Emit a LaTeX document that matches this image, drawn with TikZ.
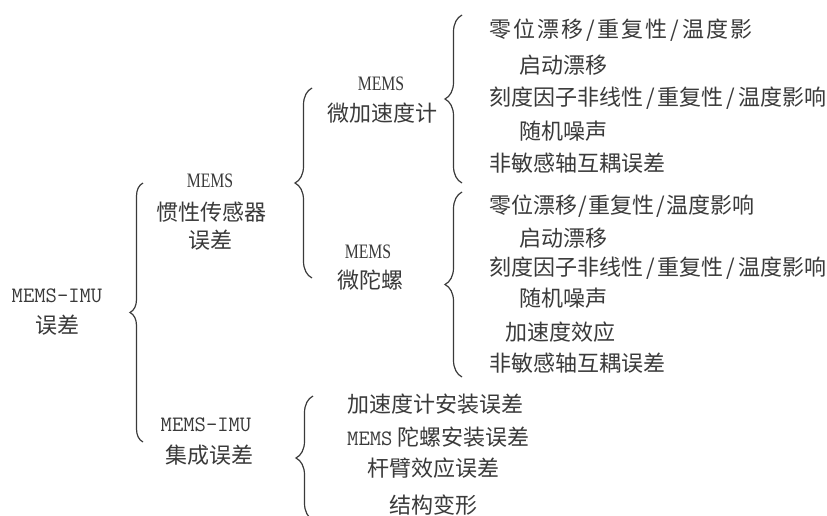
\documentclass[tikz,border=0pt]{standalone}
\usepackage{fontspec}
\newfontfamily\cjk{Noto Sans CJK SC}
\newfontfamily\narrowserif[FakeStretch=0.77]{Liberation Serif}
\usetikzlibrary{decorations.pathreplacing}
\definecolor{ink}{HTML}{3A3A3A}
\newcommand\lsp{\hspace{2pt}}
\newcommand\sla{\hspace{3pt}/\hspace{3pt}}
\newcommand\slb{\hspace{1.5pt}/\hspace{1.5pt}}
\tikzset{
  cj/.style={font=\cjk\fontsize{22}{26}\selectfont, text=ink, inner sep=0pt},
  lat/.style={font=\narrowserif\fontsize{20.5}{24}\selectfont, text=ink, inner sep=0pt},
  mo/.style={font=\ttfamily\fontsize{22}{26}\selectfont, text=ink, inner sep=0pt},
  lbrace/.style={draw=ink, line width=1.2pt, decorate, decoration={brace, amplitude=#1}},
  lbrace/.default=17pt
}
\begin{document}
\begin{tikzpicture}[x=1pt, y=-1pt]
\fill[white] (0,0) rectangle (827,515);
\useasboundingbox (0,0) rectangle (827,515);

% root
\node[mo] (r1) at (57,296) {MEMS-IMU};
\node[cj] (r2) at (57,325) {误差};

% level 1
\node[lat] (s1) at (210,181) {MEMS};
\node[cj]  (s2) at (211,212) {惯性传感器};
\node[cj]  (s3) at (210,240) {误差};
\node[mo]  (i1) at (206,425) {MEMS-IMU};
\node[cj]  (i2) at (209,455) {集成误差};

% level 2
\node[lat] (a1) at (381,84) {MEMS};
\node[cj]  (a2) at (382,113) {微加速度计};
\node[lat] (g1) at (368,252) {MEMS};
\node[cj]  (g2) at (370,280) {微陀螺};

% accelerometer errors
\node[cj, anchor=west] (a3) at (489,30) {零\lsp 位\lsp 漂\lsp 移\sla 重\lsp 复\lsp 性\sla 温\lsp 度\lsp 影};
\node[cj, anchor=west] (a4) at (519,65) {启动漂移};
\node[cj, anchor=west] (a5) at (489,98) {刻度因子非线性\sla 重复性\sla 温度影响};
\node[cj, anchor=west] (a6) at (519,131) {随机噪声};
\node[cj, anchor=west] (a7) at (489,163) {非敏感轴互耦误差};

% gyro errors
\node[cj, anchor=west] (g3) at (489,206) {零位漂移\slb 重复性\slb 温度影响};
\node[cj, anchor=west] (g4) at (519,238) {启动漂移};
\node[cj, anchor=west] (g5) at (489,268) {刻度因子非线性\sla 重复性\sla 温度影响};
\node[cj, anchor=west] (g6) at (519,298) {随机噪声};
\node[cj, anchor=west] (g7) at (505,332) {加速度效应};
\node[cj, anchor=west] (g8) at (489,363) {非敏感轴互耦误差};

% integration errors
\node[cj, anchor=west] (n1) at (347,404) {加速度计安装误差};
\node[cj, anchor=west] (n2) at (347,437) {{\ttfamily MEMS} 陀螺安装误差};
\node[cj, anchor=west] (n3) at (367,468) {杆臂效应误差};
\node[cj, anchor=west] (n4) at (389,505) {结构变形};

% brace end points
\coordinate (b1t) at (143,183);
\coordinate (b1b) at (143,442);
\coordinate (b2t) at (312,88);
\coordinate (b2b) at (312,278);
\coordinate (b3t) at (462,15);
\coordinate (b3b) at (462,183);
\coordinate (b4t) at (462,192);
\coordinate (b4b) at (462,377);
\coordinate (b5t) at (313,396);
\coordinate (b5b) at (313,520);

\draw[lbrace=13pt] (b1b) -- (b1t);
\draw[lbrace] (b2b) -- (b2t);
\draw[lbrace] (b3b) -- (b3t);
\draw[lbrace] (b4b) -- (b4t);
\draw[lbrace] (b5b) -- (b5t);
\end{tikzpicture}
\end{document}
